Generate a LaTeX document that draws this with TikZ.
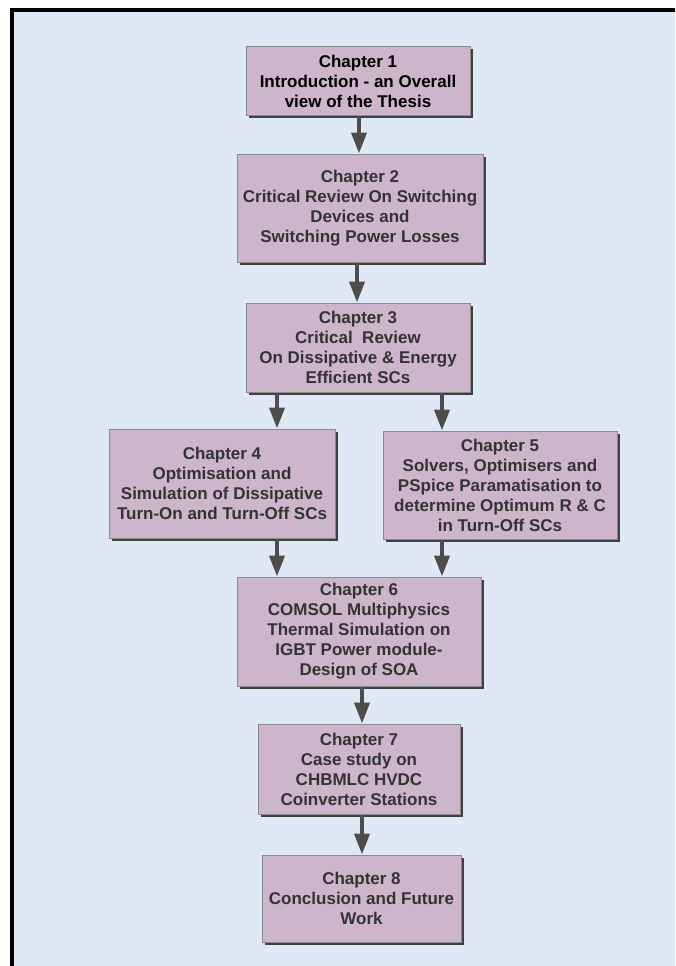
\documentclass[tikz,border=0pt]{standalone}
\usepackage{fontspec}
\setmainfont{Liberation Sans}
\usetikzlibrary{arrows.meta,shadows}
\definecolor{bgblue}{HTML}{DEE9F5}
\definecolor{boxfill}{HTML}{CDB5CB}
\definecolor{boxline}{HTML}{8A8A8A}
\definecolor{arrowgray}{HTML}{4D4D4D}
\definecolor{txtgray}{HTML}{333333}
\begin{document}
\begin{tikzpicture}[x=1pt,y=-1pt,
  chbox/.style={draw=boxline, line width=1pt, fill=boxfill, align=center,
    inner sep=0pt, text=txtgray,
    font=\fontsize{17}{20}\selectfont\bfseries,
    drop shadow={shadow xshift=2.5pt, shadow yshift=-2.5pt, fill=black!75, opacity=1}},
  arr/.style={draw=arrowgray, line width=4pt, -{Triangle[width=15pt,length=21pt]}, arrowgray}
]
\useasboundingbox (0,0) rectangle (675,966);
\fill[white] (0,0) rectangle (675,966);
\fill[black] (10,8) rectangle (675,966);
\fill[bgblue] (14,12) rectangle (675,966);

\node[chbox, text=black, minimum width=224pt, minimum height=68pt] (c1) at (358,81)
  {Chapter 1\\Introduction - an Overall\\view of the Thesis};
\node[chbox, minimum width=246pt, minimum height=108pt] (c2) at (360,208)
  {Chapter 2\\Critical Review On Switching\\Devices and\\Switching Power Losses};
\node[chbox, minimum width=224pt, minimum height=89pt] (c3) at (358,347.5)
  {Chapter 3\\Critical\ \ Review\\On Dissipative \& Energy\\Efficient SCs};
\node[chbox, minimum width=226pt, minimum height=109pt] (c4) at (222,483.5)
  {Chapter 4\\Optimisation and\\Simulation of Dissipative\\Turn-On and Turn-Off SCs};
\node[chbox, minimum width=234pt, minimum height=108pt] (c5) at (500,485)
  {Chapter 5\\Solvers, Optimisers and\\PSpice Paramatisation to\\determine Optimum R \& C\\in Turn-Off SCs};
\node[chbox, minimum width=244pt, minimum height=109pt] (c6) at (359,631.5)
  {Chapter 6\\COMSOL Multiphysics\\Thermal Simulation on\\IGBT Power module-\\Design of SOA};
\node[chbox, minimum width=202pt, minimum height=90pt] (c7) at (359,769)
  {Chapter 7\\Case study on\\CHBMLC HVDC\\Coinverter Stations};
\node[chbox, minimum width=199pt, minimum height=87pt] (c8) at (361.5,898.5)
  {Chapter 8\\Conclusion and Future\\Work};

\draw[arr] ([xshift=1pt]c1.south) -- ([xshift=-1pt]c2.north);
\draw[arr] ([xshift=-3pt]c2.south) -- ([xshift=-1pt]c3.north);
\draw[arr] ([xshift=-81pt]c3.south) -- ([xshift=55pt]c4.north);
\draw[arr] ([xshift=84pt]c3.south) -- ([xshift=-58pt]c5.north);
\draw[arr] ([xshift=55pt]c4.south) -- ([xshift=-82pt]c6.north);
\draw[arr] ([xshift=-58pt]c5.south) -- ([xshift=83pt]c6.north);
\draw[arr] ([xshift=3pt]c6.south) -- ([xshift=3pt]c7.north);
\draw[arr] ([xshift=3pt]c7.south) -- ([xshift=0.5pt]c8.north);
\end{tikzpicture}
\end{document}
